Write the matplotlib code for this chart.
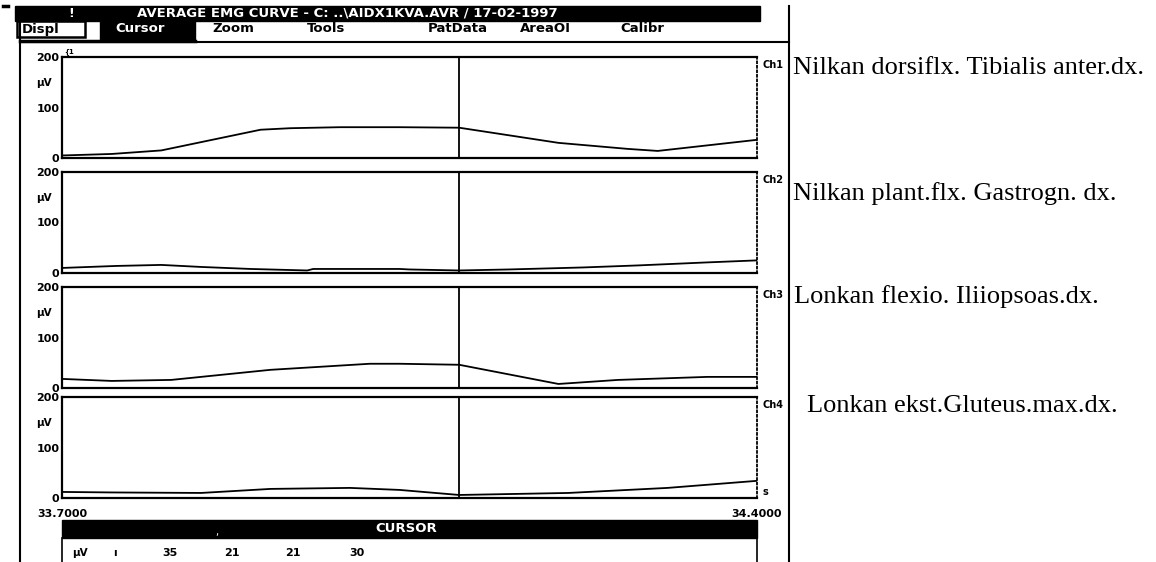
import matplotlib
matplotlib.use("Agg")
import matplotlib.pyplot as plt
from matplotlib.patches import Rectangle

W, H = 1156, 562

# averaged EMG curves per channel (time in s, amplitude in uV)
t_ch1 = [33.70, 33.75, 33.80, 33.90, 33.93, 33.98, 34.04, 34.10, 34.20, 34.27, 34.30, 34.40]
v_ch1 = [5, 8, 15, 56, 59, 61, 61, 60, 30, 18, 14, 36]

t_ch2 = [33.70, 33.755, 33.80, 33.84, 33.89, 33.947, 33.953, 34.04, 34.05, 34.10, 34.15, 34.225, 34.28, 34.35, 34.40]
v_ch2 = [10, 14, 16, 12, 8, 5, 8, 8, 7, 5, 7, 11, 15, 21, 25]

t_ch3 = [33.70, 33.75, 33.81, 33.91, 34.01, 34.04, 34.10, 34.20, 34.26, 34.35, 34.40]
v_ch3 = [18, 14, 16, 36, 48, 48, 46, 8, 16, 22, 22]

t_ch4 = [33.70, 33.75, 33.84, 33.91, 33.99, 34.04, 34.10, 34.21, 34.31, 34.40]
v_ch4 = [12, 11, 10, 18, 20, 16, 6, 10, 20, 34]

times = [t_ch1, t_ch2, t_ch3, t_ch4]
values = [v_ch1, v_ch2, v_ch3, v_ch4]
channels = ["Ch1", "Ch2", "Ch3", "Ch4"]
muscles = ["Nilkan dorsiflx. Tibialis anter.dx.",
           "Nilkan plant.flx. Gastrogn. dx.",
           "Lonkan flexio. Iliiopsoas.dx.",
           "Lonkan ekst.Gluteus.max.dx."]
cursor_t = 34.10
cursor_vals = [35, 21, 21, 30]
menu = ["Displ", "Cursor", "Zoom", "Tools", "PatData", "AreaOI", "Calibr"]
title = "AVERAGE EMG CURVE - C: ..\\AIDX1KVA.AVR / 17-02-1997"

fig = plt.figure(figsize=(W / 100, H / 100), dpi=100)

# screen decoration in pixel coords
bg = fig.add_axes([0, 0, 1, 1])
bg.set_xlim(0, W)
bg.set_ylim(H, 0)
bg.axis("off")

bg.plot([3, 8], [6, 6], color="black", lw=2.5)
bg.add_patch(Rectangle((15, 6), 745, 15, color="black"))
bg.text(68, 13.5, "!", color="white", fontsize=9, fontweight="bold", va="center")
bg.text(137, 13.5, title, color="white", fontsize=9.5, fontweight="bold",
        va="center")
bg.plot([20, 20], [21, H], color="black", lw=1.5)
bg.plot([789, 789], [6, H], color="black", lw=1.5)
bg.plot([20, 789], [42, 42], color="black", lw=1.5)
bg.plot([20, 195], [41, 41], color="black", lw=2.5)
bg.add_patch(Rectangle((17, 21), 68, 16, fill=False, ec="black", lw=1.8))
bg.add_patch(Rectangle((100, 21), 95, 19, color="black"))
menu_x = [22, 115, 212, 307, 428, 520, 620]
for x, m in zip(menu_x, menu):
    bg.text(x, 29, m, fontsize=9.5, fontweight="bold", va="center",
            color="white" if m == "Cursor" else "black")

# cursor readout
bg.add_patch(Rectangle((62, 520), 695, 18, color="black"))
bg.text(406, 529, "CURSOR", color="white", fontsize=9.5, fontweight="bold",
        ha="center", va="center")
bg.text(217, 532, ",", color="white", fontsize=7, ha="center", va="center")
bg.plot([62, 62], [538, H], color="black", lw=1.2)
bg.plot([757, 757], [538, H], color="black", lw=1.2)
bg.text(80, 553, "µV", fontsize=7.5, fontweight="bold", ha="center", va="center")
bg.text(115, 553, "ı", fontsize=7.5, fontweight="bold", ha="center", va="center")
for x, v in zip([170, 232, 293, 357], cursor_vals):
    bg.text(x, 553, str(v), fontsize=8, fontweight="bold", ha="center", va="center")
bg.text(64, 52, "{1", fontsize=5, fontweight="bold", va="center")

tops = [57, 172, 287, 397]
for i, top in enumerate(tops):
    ax = fig.add_axes([62 / W, 1 - (top + 101) / H, 695 / W, 101 / H])
    ax.plot(times[i], values[i], color="black", lw=1.3)
    ax.axvline(cursor_t, color="black", lw=1.3)
    ax.set_xlim(33.70, 34.40)
    ax.set_ylim(0, 200)
    ax.set_yticks([0, 100, 200])
    for s in ["top", "bottom", "left"]:
        ax.spines[s].set_linewidth(1.6)
    ax.spines["right"].set_linewidth(1.3)
    ax.spines["right"].set_linestyle((0, (1, 1.5)))
    ax.tick_params(length=0, labelsize=8, pad=2)
    for lab in ax.get_yticklabels():
        lab.set_fontweight("bold")
    ax.text(-0.026, 0.74, "µV", transform=ax.transAxes, fontsize=7.5,
            fontweight="bold", ha="center", va="center")
    ax.text(1.008, 1 - 8 / 101, channels[i], transform=ax.transAxes,
            fontsize=7, fontweight="bold", va="center")
    if i == 3:
        ax.set_xticks([33.70, 34.40])
        ax.set_xticklabels(["33.7000", "34.4000"], fontweight="bold")
        ax.tick_params(axis="x", pad=8)
        ax.text(1.008, 0.06, "s", transform=ax.transAxes, fontsize=7,
                fontweight="bold", va="center")
    else:
        ax.set_xticks([])

label_pos = [(793, 68), (793, 194), (794, 297), (807, 406)]
for (x, y), m in zip(label_pos, muscles):
    fig.text(x / W, 1 - y / H, m, family="Liberation Serif", fontsize=19,
             va="center")

fig.savefig("out.png", dpi=100)
